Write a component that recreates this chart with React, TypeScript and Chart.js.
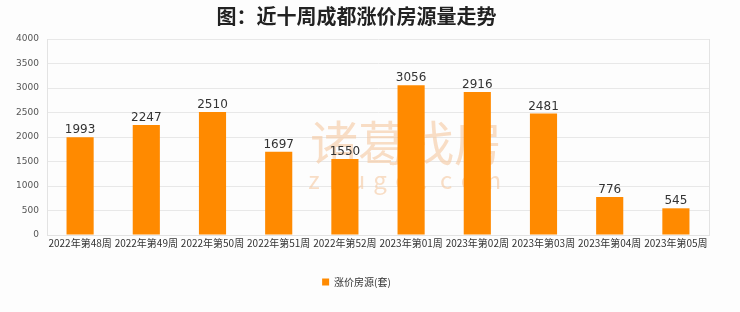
import React, { useEffect, useRef } from "react";
import { Chart, registerables } from "chart.js";

Chart.register(...registerables);

const categories = [
  "2022年第48周", "2022年第49周", "2022年第50周", "2022年第51周", "2022年第52周",
  "2023年第01周", "2023年第02周", "2023年第03周", "2023年第04周", "2023年第05周",
];
const values = [1993, 2247, 2510, 1697, 1550, 3056, 2916, 2481, 776, 545];
const seriesName = "涨价房源(套)";
const titleText = "图：近十周成都涨价房源量走势";
const yMax = 4000;
const yStep = 500;

const FONT = "'Noto Sans CJK SC', 'Noto Sans', sans-serif";
const NUMFONT = "'DejaVu Sans', sans-serif";

const bgPlugin = {
  id: "bgAndFrame",
  beforeDraw(chart: any) {
    const { ctx, width, height } = chart;
    ctx.save();
    ctx.fillStyle = "#fdfdfd";
    ctx.fillRect(0, 0, width, height);
    ctx.restore();
  },
  beforeDatasetsDraw(chart: any) {
    const { ctx, chartArea } = chart;
    ctx.save();
    const cx = (chartArea.left + chartArea.right) / 2;
    ctx.fillStyle = "rgba(245, 200, 160, 0.6)";
    ctx.font = `48px ${FONT}`;
    ctx.textAlign = "center";
    ctx.textBaseline = "middle";
    ctx.fillText("诸葛找房", cx + 28, 143);
    ctx.font = `24px ${FONT}`;
    const letters = "zhuge.com".split("");
    const startX = cx - 64;
    letters.forEach((ch, i) => {
      ctx.fillText(ch, startX + i * 22, 180);
    });
    ctx.strokeStyle = "#e3e3e3";
    ctx.lineWidth = 1;
    ctx.beginPath();
    ctx.moveTo(Math.round(chartArea.right) + 0.5, chartArea.top);
    ctx.lineTo(Math.round(chartArea.right) + 0.5, chartArea.bottom);
    ctx.stroke();
    ctx.restore();
  },
  afterDatasetsDraw(chart: any) {
    const { ctx } = chart;
    const meta = chart.getDatasetMeta(0);
    ctx.save();
    ctx.fillStyle = "#333333";
    ctx.font = `12px ${NUMFONT}`;
    ctx.textAlign = "center";
    ctx.textBaseline = "bottom";
    meta.data.forEach((bar: any, i: number) => {
      ctx.fillText(String(chart.data.datasets[0].data[i]), bar.x, bar.y - 1);
    });
    ctx.restore();
  },
};

export default function App() {
  const ref = useRef<HTMLCanvasElement | null>(null);
  useEffect(() => {
    if (!ref.current) return;
    const chart = new Chart(ref.current, {
      type: "bar",
      data: {
        labels: categories,
        datasets: [
          {
            label: seriesName,
            data: values,
            backgroundColor: "#ff8a00",
            borderWidth: 0,
            categoryPercentage: 1,
            barPercentage: 0.41,
          },
        ],
      },
      options: {
        animation: false,
        responsive: false,
        maintainAspectRatio: false,
        layout: { padding: { left: 4, right: 31, top: 4, bottom: 15 } },
        plugins: {
          title: {
            display: true,
            text: titleText,
            color: "#222",
            font: { family: FONT, size: 20, weight: "bold" },
            padding: { top: 0, bottom: 11 },
          },
          legend: {
            position: "bottom",
            labels: {
              boxWidth: 7,
              boxHeight: 7,
              color: "#333",
              font: { family: FONT, size: 10 },
              padding: 10,
            },
          },
          tooltip: { enabled: false },
        },
        scales: {
          x: {
            grid: { display: false, drawTicks: false },
            border: { color: "#e3e3e3" },
            ticks: {
              color: "#333",
              font: { family: FONT, size: 10 },
              maxRotation: 0,
              autoSkip: false,
              padding: 2,
            },
            afterFit(scale: any) {
              scale.height = 32;
            },
          },
          y: {
            min: 0,
            max: yMax,
            grid: { color: "#e8e8e8", drawTicks: false },
            border: { color: "#e3e3e3" },
            ticks: {
              stepSize: yStep,
              color: "#555",
              font: { family: NUMFONT, size: 9 },
              padding: 8,
              callback: (v: any) => String(v),
            },
            afterFit(scale: any) {
              scale.width = 43;
            },
          },
        },
      },
      plugins: [bgPlugin],
    });
    return () => chart.destroy();
  }, []);
  return (
    <div style={{ position: "fixed", left: 0, top: 0, width: 740, height: 312, background: "#fdfdfd" }}>
      <canvas ref={ref} width={740} height={312} style={{ display: "block", width: 740, height: 312 }} />
    </div>
  );
}
